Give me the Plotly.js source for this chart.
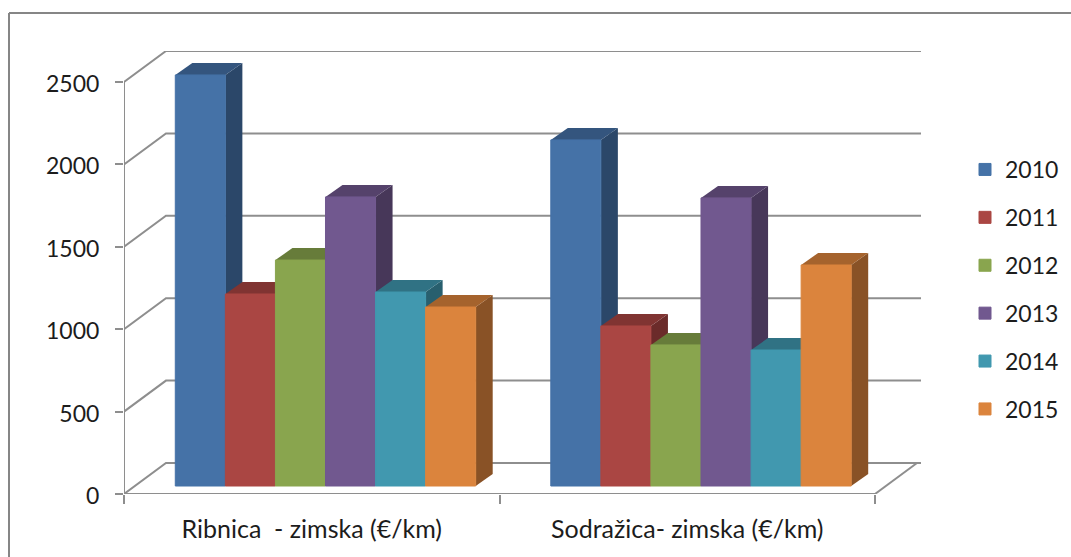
<!DOCTYPE html>
<html><head><meta charset="utf-8">
<script src="https://cdn.plot.ly/plotly-3.0.1.min.js"></script>
<style>html,body{margin:0;padding:0;background:#fff}#c{width:1071px;height:557px}</style>
</head><body><div id="c"></div>
<script>
const categories = ['Ribnica  - zimska (€/km)', 'Sodražica- zimska (€/km)'];
const years = ['2010', '2011', '2012', '2013', '2014', '2015'];
const v2010 = [2494, 2100];
const v2011 = [1165, 971];
const v2012 = [1371, 856];
const v2013 = [1754, 1748];
const v2014 = [1177, 825];
const v2015 = [1086, 1341];
const yTicks = [0, 500, 1000, 1500, 2000, 2500];
const series = [v2010, v2011, v2012, v2013, v2014, v2015];

const frontColors = ['#4572A7', '#AA4643', '#89A54E', '#71588F', '#4198AF', '#DB843D'];
const topColors   = ['#34557E', '#803432', '#677C3A', '#55426B', '#307284', '#A5632D'];
const sideColors  = ['#2B4769', '#6B2B2A', '#556730', '#473759', '#285F6E', '#895226'];
const gridColor = '#8E8E8E', inkColor = '#1C1C1C';
const fontFam = 'Lato, Carlito, Calibri, sans-serif';

// 3-D projection expressed in axis units
const depthX = 0.1118, depthY = 188;      // full depth of the chart box
const barDepthX = 0.0453, barDepthY = 73; // depth of one bar
const liftY = 48.5;                       // height of bar feet above the front edge
const groupWidth = 0.8, groupShift = 0.0366;
const barW = groupWidth / years.length;
const xMax = 2.1225, yMax = 2688;

const traces = [];
function poly(xs, ys, color) {
  traces.push({type:'scatter', mode:'lines', x:xs, y:ys, fill:'toself', fillcolor:color,
    line:{width:0, color:color}, hoverinfo:'skip', showlegend:false, cliponaxis:false});
}
function line(xs, ys, w) {
  traces.push({type:'scatter', mode:'lines', x:xs, y:ys, line:{width:w||2, color:gridColor},
    hoverinfo:'skip', showlegend:false, cliponaxis:false});
}
// walls and floor
yTicks.forEach(v => {
  line([0, depthX, xMax], [v, v + depthY, v + depthY]);
});
line([0, 0], [0, yTicks[yTicks.length - 1]]);
line([0, categories.length], [0, 0]);
line([categories.length, categories.length + depthX], [0, depthY]);

// side and top faces, painted left to right
categories.forEach((c, ci) => {
  series.forEach((vals, si) => {
    const x0 = ci + 0.5 + groupShift - groupWidth / 2 + si * barW, x1 = x0 + barW;
    const b = liftY, t = liftY + vals[ci];
    poly([x1, x1 + barDepthX, x1 + barDepthX, x1, x1],
         [b, b + barDepthY, t + barDepthY, t, b], sideColors[si]);
    poly([x0, x0 + barDepthX, x1 + barDepthX, x1, x0],
         [t, t + barDepthY, t + barDepthY, t, t], topColors[si]);
  });
});
// front faces on an overlaid subplot so they sit on top of every side/top face
series.forEach((vals, si) => {
  traces.push({type:'bar', name:years[si], legendgroup:years[si], xaxis:'x2', yaxis:'y2',
    x:categories.map((c, i) => i + 0.5 + groupShift), y:vals, base:liftY,
    marker:{color:frontColors[si], line:{width:1, color:frontColors[si]}}, cliponaxis:false,
    hovertemplate:years[si] + ': %{y}<extra></extra>'});
});

const W = 1071, H = 557, L = 124, R = 150, T = 51, B = 63;
const pw = W - L - R, ph = H - T - B;
const px = p => (p - L) / pw, py = p => (H - B - p) / ph;

const layout = {
  width:W, height:H, margin:{l:L, r:R, t:T, b:B, pad:0, autoexpand:false}, autosize:false,
  paper_bgcolor:'#fff', plot_bgcolor:'rgba(0,0,0,0)',
  font:{family:fontFam, size:23, color:inkColor},
  barmode:'group', bargap:1 - groupWidth, bargroupgap:0, showlegend:true,
  xaxis:{range:[0, xMax], tickmode:'array', tickvals:categories.map((c, i) => i + 0.5), ticktext:categories,
    ticks:'', showgrid:false, zeroline:false, showline:false, ticklabelstandoff:18, tickangle:0,
    minor:{tickmode:'array', tickvals:[0, 1, 2], ticks:'outside', ticklen:9, tickwidth:2, tickcolor:gridColor, showgrid:false},
    tickfont:{family:fontFam, size:25, color:inkColor}},
  yaxis:{range:[0, yMax], tickmode:'array', tickvals:yTicks, ticks:'outside', ticklen:8, tickwidth:2,
    tickcolor:gridColor, showgrid:false, zeroline:false, showline:false, ticklabelstandoff:11, ticklabelshift:2,
    tickfont:{family:fontFam, size:23, color:inkColor}},
  xaxis2:{range:[0, xMax], overlaying:'x', visible:false},
  yaxis2:{range:[0, yMax], overlaying:'y', visible:false},
  legend:{x:px(965), xanchor:'left', y:py(148), yanchor:'top', tracegroupgap:15, traceorder:'grouped',
    bgcolor:'rgba(0,0,0,0)', font:{family:fontFam, size:23, color:inkColor}},
  shapes:[
    {type:'line', xref:'paper', yref:'paper', x0:px(9), x1:px(9), y0:py(13), y1:py(557), line:{color:'#868686', width:2}},
    {type:'line', xref:'paper', yref:'paper', x0:px(9), x1:px(1071), y0:py(13), y1:py(13), line:{color:'#868686', width:2}}
  ]
};
Plotly.newPlot('c', traces, layout, {displayModeBar:false, staticPlot:true});
</script></body></html>
